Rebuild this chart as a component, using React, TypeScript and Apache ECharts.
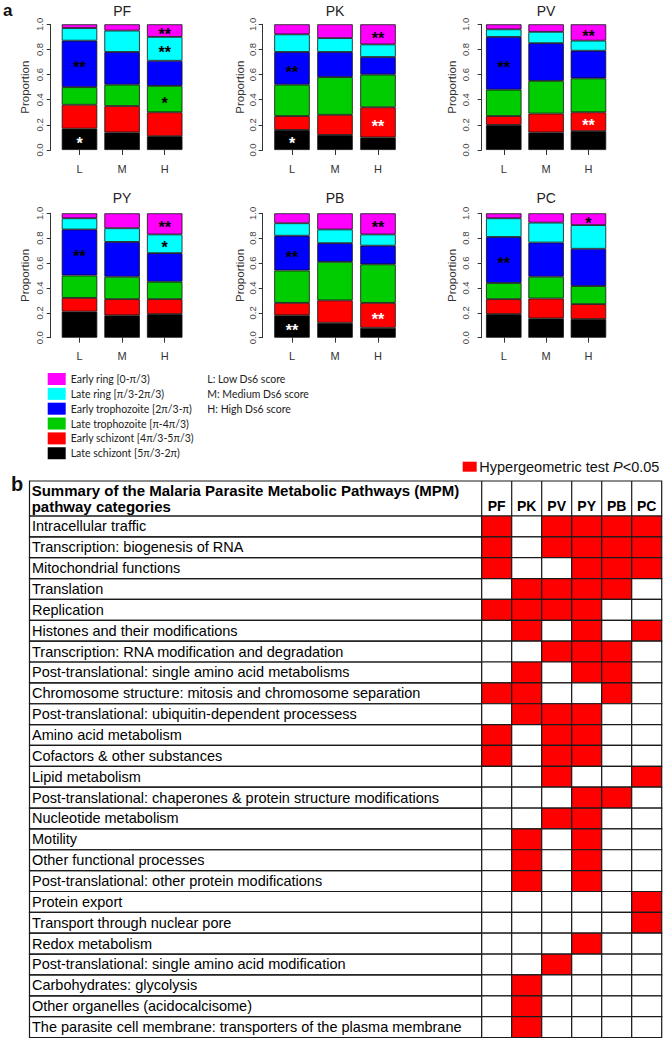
import React, { useEffect, useRef } from "react";
import * as echarts from "echarts";

// ---------- DATA ----------
const panels = ["PF", "PK", "PV", "PY", "PB", "PC"];
const scoreGroups = ["L", "M", "H"];
const yTicks = [0, 0.2, 0.4, 0.6, 0.8, 1.0];
// stages from bottom of the stack to top
const stages = [
  "Late schizont [5π/3-2π)",
  "Early schizont [4π/3-5π/3)",
  "Late trophozoite [π-4π/3)",
  "Early trophozoite [2π/3-π)",
  "Late ring [π/3-2π/3)",
  "Early ring [0-π/3)",
];
const stageColors = ["#000000", "#FF0000", "#00CD00", "#0000FF", "#00FFFF", "#FF00FF"];

// proportions: one row per stage (bottom→top), values for L, M, H
const PF_props = [
  [0.17, 0.14, 0.11],
  [0.19, 0.21, 0.19],
  [0.14, 0.17, 0.21],
  [0.37, 0.26, 0.20],
  [0.10, 0.17, 0.19],
  [0.03, 0.05, 0.10],
];
const PK_props = [
  [0.16, 0.12, 0.10],
  [0.11, 0.16, 0.24],
  [0.25, 0.30, 0.26],
  [0.26, 0.20, 0.14],
  [0.14, 0.11, 0.10],
  [0.08, 0.11, 0.16],
];
const PV_props = [
  [0.20, 0.14, 0.15],
  [0.07, 0.15, 0.15],
  [0.21, 0.26, 0.27],
  [0.42, 0.30, 0.22],
  [0.06, 0.09, 0.08],
  [0.04, 0.06, 0.13],
];
const PY_props = [
  [0.21, 0.18, 0.19],
  [0.11, 0.13, 0.12],
  [0.18, 0.18, 0.14],
  [0.37, 0.28, 0.23],
  [0.09, 0.11, 0.15],
  [0.04, 0.12, 0.17],
];
const PB_props = [
  [0.18, 0.12, 0.08],
  [0.10, 0.18, 0.20],
  [0.26, 0.31, 0.31],
  [0.28, 0.15, 0.15],
  [0.10, 0.11, 0.09],
  [0.08, 0.13, 0.17],
];
const PC_props = [
  [0.19, 0.155, 0.15],
  [0.12, 0.16, 0.12],
  [0.13, 0.175, 0.145],
  [0.37, 0.275, 0.30],
  [0.15, 0.16, 0.19],
  [0.04, 0.075, 0.095],
];
const panelProps = [PF_props, PK_props, PV_props, PY_props, PB_props, PC_props];

// significance marks: [groupIndex, stageIndex, mark]
const PF_stars = [[0, 0, "*"], [0, 3, "**"], [2, 2, "*"], [2, 4, "**"], [2, 5, "**"]];
const PK_stars = [[0, 0, "*"], [0, 3, "**"], [2, 1, "**"], [2, 5, "**"]];
const PV_stars = [[0, 3, "**"], [2, 1, "**"], [2, 5, "**"]];
const PY_stars = [[0, 3, "**"], [2, 4, "*"], [2, 5, "**"]];
const PB_stars = [[0, 0, "**"], [0, 3, "**"], [2, 1, "**"], [2, 5, "**"]];
const PC_stars = [[0, 3, "**"], [2, 5, "*"]];
const panelStars = [PF_stars, PK_stars, PV_stars, PY_stars, PB_stars, PC_stars];

const scoreNotes = ["L: Low Ds6 score", "M: Medium Ds6 score", "H: High Ds6 score"];

// table
const tableTitle = ["Summary of the Malaria Parasite Metabolic Pathways (MPM)", "pathway categories"];
const pathways = [
  "Intracellular traffic",
  "Transcription: biogenesis of RNA",
  "Mitochondrial functions",
  "Translation",
  "Replication",
  "Histones and their modifications",
  "Transcription: RNA modification and degradation",
  "Post-translational: single amino acid metabolisms",
  "Chromosome structure: mitosis and chromosome separation",
  "Post-translational: ubiquitin-dependent processess",
  "Amino acid metabolism",
  "Cofactors & other substances",
  "Lipid metabolism",
  "Post-translational: chaperones & protein structure modifications",
  "Nucleotide metabolism",
  "Motility",
  "Other functional processes",
  "Post-translational: other protein modifications",
  "Protein export",
  "Transport through nuclear pore",
  "Redox metabolism",
  "Post-translational: single amino acid modification",
  "Carbohydrates: glycolysis",
  "Other organelles (acidocalcisome)",
  "The parasite cell membrane: transporters of the plasma membrane",
];
const PF_sig = [1,1,1,0,1,0,0,0,1,0,1,1,0,0,0,0,0,0,0,0,0,0,0,0,0];
const PK_sig = [0,0,0,1,1,1,0,1,1,1,0,0,0,0,0,1,1,1,0,0,0,0,1,1,1];
const PV_sig = [1,1,0,1,1,0,1,0,0,1,1,1,1,0,1,0,0,0,0,0,0,1,0,0,0];
const PY_sig = [1,1,1,1,1,1,1,1,0,1,1,1,0,1,1,1,1,1,0,0,1,0,0,0,0];
const PB_sig = [1,1,1,1,0,0,1,1,1,0,0,0,0,1,0,0,0,0,0,0,0,0,0,0,0];
const PC_sig = [1,1,1,0,0,1,0,0,0,0,0,0,1,0,0,0,0,0,1,1,0,0,0,0,0];
const tableSig = [PF_sig, PK_sig, PV_sig, PY_sig, PB_sig, PC_sig];
const sigLegend = "Hypergeometric test {i|P}<0.05";

// ---------- LAYOUT ----------
const colLayout = [
  { left: 58.2, width: 127.8, offset: 7.5, labelMargin: 6, nameGap: 20 },
  { left: 270.5, width: 129, offset: 7.8, labelMargin: 5, nameGap: 17 },
  { left: 482.6, width: 127, offset: 0.9, labelMargin: 11, nameGap: 24 },
];
const rowLayout = [
  { top: 24.3, height: 125.7, titleY: 10.5 },
  { top: 213.3, height: 124.4, titleY: 197.5 },
];
const TBL = { left: 29.5, split: 481.7, right: 661.7, headTop: 481, top: 516, bottom: 1037.5 };
const FONT = "'Liberation Sans', Arial, sans-serif";
const LFONT = "Lato, 'Open Sans', sans-serif";

function buildOption() {
  const grid: any[] = [];
  const xAxis: any[] = [];
  const yAxis: any[] = [];
  const series: any[] = [];
  const title: any[] = [];

  panels.forEach((p, pi) => {
    const c = colLayout[pi % 3];
    const r = rowLayout[Math.floor(pi / 3)];
    grid.push({ left: c.left, top: r.top, width: c.width, height: r.height });
    xAxis.push({
      type: "category",
      gridIndex: pi,
      data: scoreGroups,
      offset: 2,
      axisLine: { show: false },
      axisTick: { show: true, alignWithLabel: true, length: 5, lineStyle: { color: "#333", width: 1 } },
      axisLabel: { fontSize: 11, color: "#333", margin: 11, fontFamily: FONT },
    });
    yAxis.push({
      type: "value",
      gridIndex: pi,
      min: 0,
      max: 1,
      interval: 0.2,
      offset: c.offset,
      splitLine: { show: false },
      axisLine: { show: true, lineStyle: { color: "#333", width: 1 } },
      axisTick: { show: true, length: 4, lineStyle: { color: "#333", width: 1 } },
      axisLabel: {
        rotate: 90,
        fontSize: 9.5,
        color: "#444",
        margin: c.labelMargin,
        fontFamily: FONT,
        formatter: (v: number) => v.toFixed(1),
        customValues: yTicks,
      },
      name: "Proportion",
      nameLocation: "middle",
      nameGap: c.nameGap,
      nameTextStyle: { fontSize: 11.5, color: "#333", fontFamily: FONT },
    });
    title.push({
      text: p,
      left: c.left + c.width / 2,
      top: r.titleY - 7,
      textAlign: "center",
      padding: 0,
      textStyle: { fontSize: 14, fontWeight: "normal", color: "#222", fontFamily: FONT },
    });
    const props = panelProps[pi];
    const stars = panelStars[pi];
    stages.forEach((s, si) => {
      const data = props[si].map((v, gi) => {
        const st = stars.find((m) => m[0] === gi && m[1] === si);
        if (!st) return v;
        return {
          value: v,
          label: {
            show: true,
            position: "inside",
            formatter: st[2] as string,
            color: si <= 1 ? "#fff" : "#000",
            fontSize: 16,
            fontWeight: "bold",
            fontFamily: FONT,
            offset: [0, 4],
          },
        };
      });
      series.push({
        type: "bar",
        name: s,
        stack: "stack" + pi,
        xAxisIndex: pi,
        yAxisIndex: pi,
        barWidth: 35.5,
        data,
        itemStyle: { color: stageColors[si], borderColor: "#111", borderWidth: 0.8 },
        label: { show: false },
      });
    });
  });

  // table grids
  const tg0 = grid.length;
  grid.push({ left: TBL.left, top: TBL.top, width: TBL.split - TBL.left, height: TBL.bottom - TBL.top });
  grid.push({ left: TBL.split, top: TBL.top, width: TBL.right - TBL.split, height: TBL.bottom - TBL.top });
  xAxis.push({ type: "category", gridIndex: tg0, data: [""], show: false });
  yAxis.push({
    type: "category",
    gridIndex: tg0,
    data: pathways,
    inverse: true,
    z: 10,
    axisLine: { show: false },
    axisTick: { show: false },
    axisLabel: { inside: true, align: "left", margin: 2.5, fontSize: 14.5, color: "#000", fontFamily: FONT },
  });
  xAxis.push({
    type: "category",
    gridIndex: tg0 + 1,
    data: panels,
    position: "top",
    axisLine: { show: false },
    axisTick: { show: false },
    axisLabel: { margin: 3, fontSize: 14, fontWeight: "bold", color: "#000", fontFamily: FONT },
  });
  yAxis.push({ type: "category", gridIndex: tg0 + 1, data: pathways, inverse: true, show: false });

  const cellRender = (filled: boolean) => (params: any, api: any) => {
    const pt = api.coord([api.value(0), api.value(1)]);
    const sz = api.size([1, 1]);
    const sig = api.value(2);
    return {
      type: "rect",
      shape: { x: pt[0] - sz[0] / 2, y: pt[1] - sz[1] / 2, width: sz[0], height: sz[1] },
      style: { fill: filled ? (sig ? "#FF0000" : "#FFFFFF") : "none", stroke: "#1a1a1a", lineWidth: 1.2 },
    };
  };
  series.push({
    type: "custom",
    name: "labels",
    xAxisIndex: tg0,
    yAxisIndex: tg0,
    renderItem: cellRender(false),
    data: pathways.map((_, ri) => [0, ri, 0]),
    encode: { x: 0, y: 1 },
    z: 1,
  });
  const cells: any[] = [];
  tableSig.forEach((col, ci) => col.forEach((v, ri) => cells.push([ci, ri, v])));
  series.push({
    type: "custom",
    name: "cells",
    xAxisIndex: tg0 + 1,
    yAxisIndex: tg0 + 1,
    renderItem: cellRender(true),
    data: cells,
    encode: { x: 0, y: 1 },
  });

  const colW = (TBL.right - TBL.split) / panels.length;
  const graphic: any[] = [
    { type: "text", x: 3, y: 10, style: { text: "a", fontSize: 17, fontWeight: "bold", fill: "#111", fontFamily: FONT, verticalAlign: "middle" } },
    { type: "text", x: 11, y: 484, style: { text: "b", fontSize: 20, fontWeight: "bold", fill: "#111", fontFamily: FONT, verticalAlign: "middle" } },
    // score notes
    ...scoreNotes.map((t, i) => ({
      type: "text",
      x: 207.3,
      y: 379 + i * 14.85,
      style: { text: t, fontSize: 10.5, fill: "#222", fontFamily: LFONT, verticalAlign: "middle" },
    })),
    // significance legend
    { type: "rect", shape: { x: 462.7, y: 461.7, width: 14, height: 10 }, style: { fill: "#FF0000" } },
    {
      type: "text",
      x: 479.3,
      y: 467,
      style: {
        text: sigLegend,
        fontSize: 14.5,
        fill: "#111",
        fontFamily: FONT,
        verticalAlign: "middle",
        rich: { i: { fontStyle: "italic", fontSize: 14.5, fontFamily: FONT, fill: "#111" } },
      },
    },
    // header box
    {
      type: "rect",
      shape: { x: TBL.left, y: TBL.headTop, width: TBL.right - TBL.left, height: TBL.top - TBL.headTop },
      style: { fill: "none", stroke: "#1a1a1a", lineWidth: 1.2 },
    },
    ...panels.map((_, ci) => ({
      type: "line",
      shape: { x1: TBL.split + ci * colW, y1: TBL.headTop, x2: TBL.split + ci * colW, y2: TBL.top },
      style: { stroke: "#1a1a1a", lineWidth: 1.2 },
    })),
    ...tableTitle.map((t, i) => ({
      type: "text",
      x: 31.7,
      y: 490.5 + i * 16,
      style: { text: t, fontSize: 15, fontWeight: "bold", fill: "#000", fontFamily: FONT, verticalAlign: "middle" },
    })),
  ];

  return {
    animation: false,
    backgroundColor: "#fff",
    title,
    grid,
    xAxis,
    yAxis,
    series,
    graphic,
    legend: {
      data: stages.slice().reverse(),
      orient: "vertical",
      left: 47.7,
      top: 373,
      padding: 0,
      itemWidth: 18,
      itemHeight: 12,
      itemGap: 2.85,
      icon: "rect",
      selectedMode: false,
      itemStyle: { borderWidth: 0 },
      textStyle: { fontSize: 10.5, color: "#222", fontFamily: LFONT },
    },
  };
}

export default function App() {
  const ref = useRef<HTMLDivElement>(null);
  useEffect(() => {
    document.body.style.margin = "0";
    const chart = echarts.init(ref.current!, null, { renderer: "svg" });
    chart.setOption(buildOption() as any);
    return () => chart.dispose();
  }, []);
  return <div ref={ref} style={{ width: 664, height: 1040 }} />;
}
